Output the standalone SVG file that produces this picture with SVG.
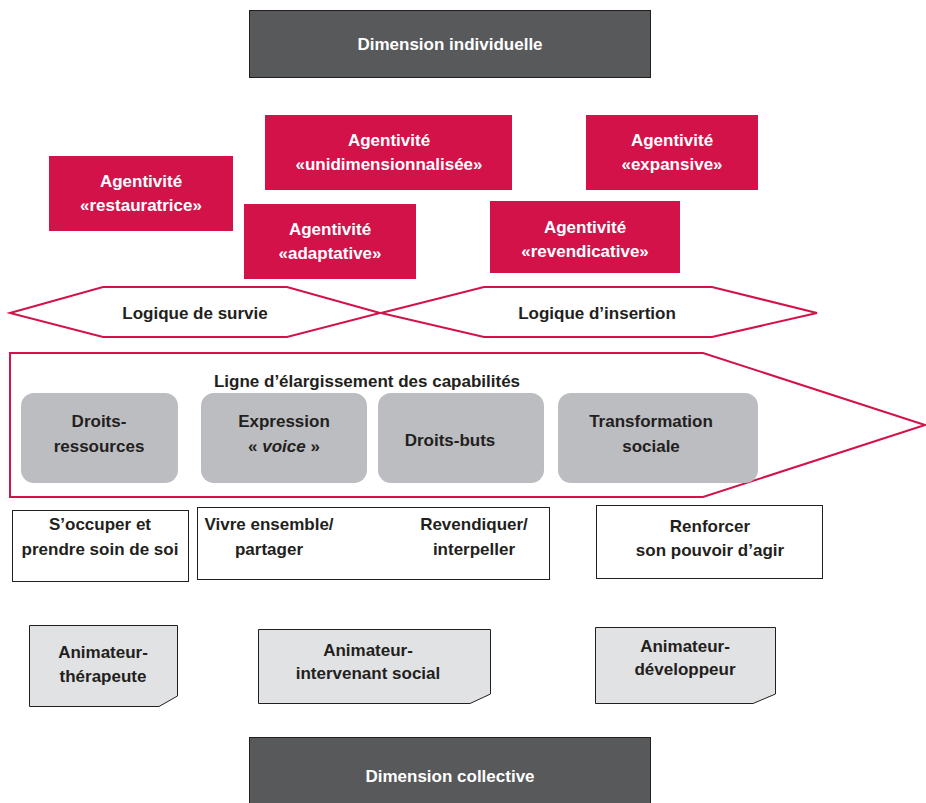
<svg xmlns="http://www.w3.org/2000/svg" width="926" height="803" viewBox="0 0 926 803">
<style>
text{font-family:"Liberation Sans Narrow","Liberation Sans",Arial,sans-serif;font-weight:bold;font-size:17px;text-anchor:middle;fill:#231f20}
.w{fill:#ffffff}
.dark{fill:#58595b;stroke:#231f20;stroke-width:1}
.red{fill:#d3124a}
.hex{fill:#ffffff;stroke:#d3124a;stroke-width:2}
.grey{fill:#bcbdc0}
.wb{fill:#ffffff;stroke:#231f20;stroke-width:1}
.anim{fill:#e1e2e3;stroke:#231f20;stroke-width:1}
</style>
<rect width="926" height="803" fill="#ffffff"/>
<g id="dim-ind"><rect class="dark" x="249.5" y="10.5" width="401" height="67"/><text class="w" x="450" y="50">Dimension individuelle</text></g>
<g id="ag-restauratrice"><rect class="red" x="49" y="156" width="184" height="75"/><text class="w" x="141" y="187">Agentivité</text><text class="w" x="141" y="211">«restauratrice»</text></g>
<g id="ag-unidim"><rect class="red" x="265" y="115" width="247" height="75"/><text class="w" x="389" y="146">Agentivité</text><text class="w" x="389" y="170">«unidimensionnalisée»</text></g>
<g id="ag-adaptative"><rect class="red" x="244" y="204" width="172" height="75"/><text class="w" x="330" y="235">Agentivité</text><text class="w" x="330" y="259">«adaptative»</text></g>
<g id="ag-expansive"><rect class="red" x="586" y="115" width="172" height="75"/><text class="w" x="672" y="146">Agentivité</text><text class="w" x="672" y="170">«expansive»</text></g>
<g id="ag-revendicative"><rect class="red" x="490" y="201" width="190" height="72"/><text class="w" x="585" y="233">Agentivité</text><text class="w" x="585" y="257">«revendicative»</text></g>
<g id="logique-survie"><polygon class="hex" points="10,313 103,287 287,287 380,313 287,337 103,337"/><text x="195" y="319">Logique de survie</text></g>
<g id="logique-insertion"><polygon class="hex" points="381,313 484,287 712,287 817,313 712,337 484,337"/><text x="597" y="319">Logique d’insertion</text></g>
<g id="ligne"><polygon class="hex" points="10,353 703,353 925,425 703,497 10,497"/><text x="367" y="387">Ligne d’élargissement des capabilités</text></g>
<g id="droits-ressources"><rect class="grey" x="21" y="393" width="157" height="90" rx="13"/><text x="99" y="427">Droits-</text><text x="99" y="452">ressources</text></g>
<g id="expression"><rect class="grey" x="201" y="393" width="166" height="90" rx="13"/><text x="284" y="427">Expression</text><text x="284" y="452">« <tspan font-style="italic">voice</tspan> »</text></g>
<g id="droits-buts"><rect class="grey" x="378" y="393" width="166" height="90" rx="13"/><text x="450" y="446">Droits-buts</text></g>
<g id="transformation"><rect class="grey" x="558" y="393" width="200" height="90" rx="13"/><text x="651" y="427">Transformation</text><text x="651" y="452">sociale</text></g>
<g id="soin"><rect class="wb" x="12.5" y="510.5" width="176" height="71"/><text x="100" y="530">S’occuper et</text><text x="100" y="555">prendre soin de soi</text></g>
<g id="vivre-revendiquer"><rect class="wb" x="197.5" y="507.5" width="352" height="72"/><text x="269" y="530">Vivre ensemble/</text><text x="269" y="555">partager</text><text x="474" y="530">Revendiquer/</text><text x="474" y="555">interpeller</text></g>
<g id="renforcer"><rect class="wb" x="596.5" y="505.5" width="226" height="73"/><text x="710" y="532">Renforcer</text><text x="710" y="556">son pouvoir d’agir</text></g>
<g id="anim-therapeute"><polygon class="anim" points="29.5,625.5 177.5,625.5 177.5,696 159,706.5 29.5,706.5"/><text x="103" y="658">Animateur-</text><text x="103" y="682">thérapeute</text></g>
<g id="anim-intervenant"><polygon class="anim" points="258.5,629.5 490.5,629.5 490.5,694 470,703.5 258.5,703.5"/><text x="368" y="656">Animateur-</text><text x="368" y="679">intervenant social</text></g>
<g id="anim-developpeur"><polygon class="anim" points="595.5,627.5 775.5,627.5 775.5,694 753,703.5 595.5,703.5"/><text x="685" y="652">Animateur-</text><text x="685" y="675">développeur</text></g>
<g id="dim-coll"><rect class="dark" x="249.5" y="737.5" width="401" height="70"/><text class="w" x="450" y="782">Dimension collective</text></g>
<g id="connectors"></g>
</svg>
